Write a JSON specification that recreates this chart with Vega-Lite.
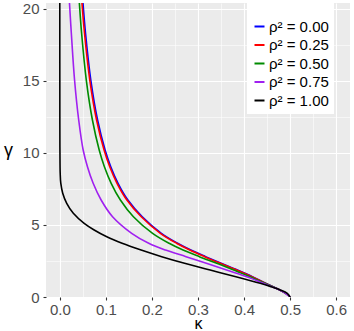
{
  "$schema": "https://vega.github.io/schema/vega-lite/v6.json",
  "width": 304,
  "height": 294,
  "autosize": {"type": "none"},
  "padding": {"left": 46, "top": 3, "right": 4, "bottom": 34},
  "background": "white",
  "config": {
    "font": "Liberation Sans",
    "view": {"fill": "#EBEBEB", "stroke": null},
    "axis": {
      "domain": false,
      "gridColor": "white",
      "tickColor": "#333333",
      "tickSize": 3,
      "tickWidth": 1.1,
      "labelFontSize": 15,
      "labelColor": "#4D4D4D",
      "titleFontSize": 18,
      "titleFontWeight": "normal",
      "titleColor": "black"
    }
  },
  "data": {
    "values": [
      {"s": "ρ² = 0.00", "k": 0.0489, "g": 21},
      {"s": "ρ² = 0.00", "k": 0.0498, "g": 20.6},
      {"s": "ρ² = 0.00", "k": 0.0558, "g": 18.3},
      {"s": "ρ² = 0.00", "k": 0.0675, "g": 15.0},
      {"s": "ρ² = 0.00", "k": 0.0820, "g": 12.28},
      {"s": "ρ² = 0.00", "k": 0.0983, "g": 10.2},
      {"s": "ρ² = 0.00", "k": 0.1106, "g": 9.04},
      {"s": "ρ² = 0.00", "k": 0.1264, "g": 7.89},
      {"s": "ρ² = 0.00", "k": 0.1478, "g": 6.73},
      {"s": "ρ² = 0.00", "k": 0.1790, "g": 5.57},
      {"s": "ρ² = 0.00", "k": 0.2205, "g": 4.42},
      {"s": "ρ² = 0.00", "k": 0.2556, "g": 3.73},
      {"s": "ρ² = 0.00", "k": 0.2844, "g": 3.26},
      {"s": "ρ² = 0.00", "k": 0.3165, "g": 2.80},
      {"s": "ρ² = 0.00", "k": 0.3501, "g": 2.34},
      {"s": "ρ² = 0.00", "k": 0.3855, "g": 1.87},
      {"s": "ρ² = 0.00", "k": 0.4180, "g": 1.41},
      {"s": "ρ² = 0.00", "k": 0.4468, "g": 0.95},
      {"s": "ρ² = 0.00", "k": 0.4778, "g": 0.49},
      {"s": "ρ² = 0.00", "k": 0.4906, "g": 0.25},
      {"s": "ρ² = 0.00", "k": 0.5, "g": 0},

      {"s": "ρ² = 0.25", "k": 0.0467, "g": 21},
      {"s": "ρ² = 0.25", "k": 0.0476, "g": 20.6},
      {"s": "ρ² = 0.25", "k": 0.0536, "g": 18.3},
      {"s": "ρ² = 0.25", "k": 0.0653, "g": 15.0},
      {"s": "ρ² = 0.25", "k": 0.0798, "g": 12.28},
      {"s": "ρ² = 0.25", "k": 0.0961, "g": 10.2},
      {"s": "ρ² = 0.25", "k": 0.1084, "g": 9.04},
      {"s": "ρ² = 0.25", "k": 0.1242, "g": 7.89},
      {"s": "ρ² = 0.25", "k": 0.1456, "g": 6.73},
      {"s": "ρ² = 0.25", "k": 0.1768, "g": 5.57},
      {"s": "ρ² = 0.25", "k": 0.2183, "g": 4.42},
      {"s": "ρ² = 0.25", "k": 0.2534, "g": 3.73},
      {"s": "ρ² = 0.25", "k": 0.2822, "g": 3.26},
      {"s": "ρ² = 0.25", "k": 0.3143, "g": 2.80},
      {"s": "ρ² = 0.25", "k": 0.3483, "g": 2.34},
      {"s": "ρ² = 0.25", "k": 0.3840, "g": 1.87},
      {"s": "ρ² = 0.25", "k": 0.4170, "g": 1.41},
      {"s": "ρ² = 0.25", "k": 0.4463, "g": 0.95},
      {"s": "ρ² = 0.25", "k": 0.4776, "g": 0.49},
      {"s": "ρ² = 0.25", "k": 0.4905, "g": 0.25},
      {"s": "ρ² = 0.25", "k": 0.5, "g": 0},

      {"s": "ρ² = 0.50", "k": 0.0412, "g": 21},
      {"s": "ρ² = 0.50", "k": 0.0420, "g": 20.6},
      {"s": "ρ² = 0.50", "k": 0.0473, "g": 18.3},
      {"s": "ρ² = 0.50", "k": 0.0577, "g": 15.0},
      {"s": "ρ² = 0.50", "k": 0.0708, "g": 12.28},
      {"s": "ρ² = 0.50", "k": 0.0855, "g": 10.2},
      {"s": "ρ² = 0.50", "k": 0.0968, "g": 9.04},
      {"s": "ρ² = 0.50", "k": 0.1115, "g": 7.89},
      {"s": "ρ² = 0.50", "k": 0.1315, "g": 6.73},
      {"s": "ρ² = 0.50", "k": 0.1598, "g": 5.57},
      {"s": "ρ² = 0.50", "k": 0.2014, "g": 4.42},
      {"s": "ρ² = 0.50", "k": 0.2373, "g": 3.73},
      {"s": "ρ² = 0.50", "k": 0.2675, "g": 3.26},
      {"s": "ρ² = 0.50", "k": 0.3029, "g": 2.80},
      {"s": "ρ² = 0.50", "k": 0.3406, "g": 2.34},
      {"s": "ρ² = 0.50", "k": 0.3775, "g": 1.87},
      {"s": "ρ² = 0.50", "k": 0.4128, "g": 1.41},
      {"s": "ρ² = 0.50", "k": 0.4453, "g": 0.95},
      {"s": "ρ² = 0.50", "k": 0.4776, "g": 0.49},
      {"s": "ρ² = 0.50", "k": 0.4905, "g": 0.25},
      {"s": "ρ² = 0.50", "k": 0.5, "g": 0},

      {"s": "ρ² = 0.75", "k": 0.0201, "g": 21},
      {"s": "ρ² = 0.75", "k": 0.0206, "g": 20.6},
      {"s": "ρ² = 0.75", "k": 0.0250, "g": 18.3},
      {"s": "ρ² = 0.75", "k": 0.0320, "g": 15.06},
      {"s": "ρ² = 0.75", "k": 0.0410, "g": 12.28},
      {"s": "ρ² = 0.75", "k": 0.0507, "g": 10.2},
      {"s": "ρ² = 0.75", "k": 0.0600, "g": 9.04},
      {"s": "ρ² = 0.75", "k": 0.0724, "g": 7.89},
      {"s": "ρ² = 0.75", "k": 0.0897, "g": 6.73},
      {"s": "ρ² = 0.75", "k": 0.1145, "g": 5.57},
      {"s": "ρ² = 0.75", "k": 0.1560, "g": 4.42},
      {"s": "ρ² = 0.75", "k": 0.1930, "g": 3.73},
      {"s": "ρ² = 0.75", "k": 0.2294, "g": 3.26},
      {"s": "ρ² = 0.75", "k": 0.2740, "g": 2.80},
      {"s": "ρ² = 0.75", "k": 0.3180, "g": 2.34},
      {"s": "ρ² = 0.75", "k": 0.3620, "g": 1.87},
      {"s": "ρ² = 0.75", "k": 0.4060, "g": 1.41},
      {"s": "ρ² = 0.75", "k": 0.4420, "g": 0.95},
      {"s": "ρ² = 0.75", "k": 0.4775, "g": 0.49},
      {"s": "ρ² = 0.75", "k": 0.4903, "g": 0.25},
      {"s": "ρ² = 0.75", "k": 0.5, "g": 0},

      {"s": "ρ² = 1.00", "k": 0.0, "g": 21},
      {"s": "ρ² = 1.00", "k": 0.0001, "g": 12},
      {"s": "ρ² = 1.00", "k": 0.0003, "g": 10},
      {"s": "ρ² = 1.00", "k": 0.0008, "g": 8.6},
      {"s": "ρ² = 1.00", "k": 0.0021, "g": 7.9},
      {"s": "ρ² = 1.00", "k": 0.0063, "g": 7.2},
      {"s": "ρ² = 1.00", "k": 0.0150, "g": 6.5},
      {"s": "ρ² = 1.00", "k": 0.0293, "g": 5.81},
      {"s": "ρ² = 1.00", "k": 0.0529, "g": 5.11},
      {"s": "ρ² = 1.00", "k": 0.0746, "g": 4.65},
      {"s": "ρ² = 1.00", "k": 0.1020, "g": 4.18},
      {"s": "ρ² = 1.00", "k": 0.1352, "g": 3.73},
      {"s": "ρ² = 1.00", "k": 0.1765, "g": 3.26},
      {"s": "ρ² = 1.00", "k": 0.2212, "g": 2.80},
      {"s": "ρ² = 1.00", "k": 0.2708, "g": 2.34},
      {"s": "ρ² = 1.00", "k": 0.3264, "g": 1.87},
      {"s": "ρ² = 1.00", "k": 0.3823, "g": 1.41},
      {"s": "ρ² = 1.00", "k": 0.4351, "g": 0.95},
      {"s": "ρ² = 1.00", "k": 0.4583, "g": 0.72},
      {"s": "ρ² = 1.00", "k": 0.4783, "g": 0.49},
      {"s": "ρ² = 1.00", "k": 0.4938, "g": 0.25},
      {"s": "ρ² = 1.00", "k": 0.5, "g": 0}
    ]
  },
  "mark": {"type": "line", "strokeWidth": 1.6, "clip": true, "interpolate": "catmull-rom"},
  "encoding": {
    "x": {
      "field": "k",
      "type": "quantitative",
      "scale": {"domain": [-0.03, 0.63], "nice": false, "zero": false},
      "axis": {
        "title": "κ",
        "titleFontSize": 16,
        "values": [0, 0.05, 0.1, 0.15, 0.2, 0.25, 0.3, 0.35, 0.4, 0.45, 0.5, 0.55, 0.6],
        "labelExpr": "round(datum.value * 20) % 2 == 1 ? '' : format(datum.value, '.1f')",
        "tickOpacity": {"condition": {"test": "round(datum.value * 20) % 2 == 1", "value": 0}, "value": 1},
        "gridWidth": {"condition": {"test": "round(datum.value * 20) % 2 == 1", "value": 0.55}, "value": 1.1},
        "labelPadding": 2,
        "titleBaseline": "alphabetic",
        "titleY": 31
      }
    },
    "y": {
      "field": "g",
      "type": "quantitative",
      "scale": {"domain": [0, 20.4], "nice": false, "zero": false},
      "axis": {
        "title": "γ",
        "values": [0, 2.5, 5, 7.5, 10, 12.5, 15, 17.5, 20],
        "labelExpr": "datum.value % 5 == 0 ? format(datum.value, 'd') : ''",
        "tickOpacity": {"condition": {"test": "datum.value % 5 != 0", "value": 0}, "value": 1},
        "gridWidth": {"condition": {"test": "datum.value % 5 != 0", "value": 0.55}, "value": 1.1},
        "labelPadding": 4,
        "titleAngle": 0,
        "titleAlign": "center",
        "titleBaseline": "middle",
        "titleX": -38,
        "titleY": 147
      }
    },
    "color": {
      "field": "s",
      "type": "nominal",
      "scale": {
        "domain": ["ρ² = 0.00", "ρ² = 0.25", "ρ² = 0.50", "ρ² = 0.75", "ρ² = 1.00"],
        "range": ["#0000FF", "#FF0000", "#008B00", "#A020F0", "#000000"]
      },
      "legend": {
        "orient": "none",
        "legendX": 201,
        "legendY": 0,
        "fillColor": "white",
        "padding": 5,
        "title": " ",
        "titleFontSize": 8,
        "titlePadding": 3,
        "symbolType": "stroke",
        "symbolSize": 100,
        "symbolStrokeWidth": 2,
        "labelFontSize": 15,
        "labelColor": "black",
        "labelOffset": 2,
        "rowPadding": 2.5,
        "labelLimit": 200
      }
    },
    "order": {"field": "g", "sort": "descending"}
  }
}
